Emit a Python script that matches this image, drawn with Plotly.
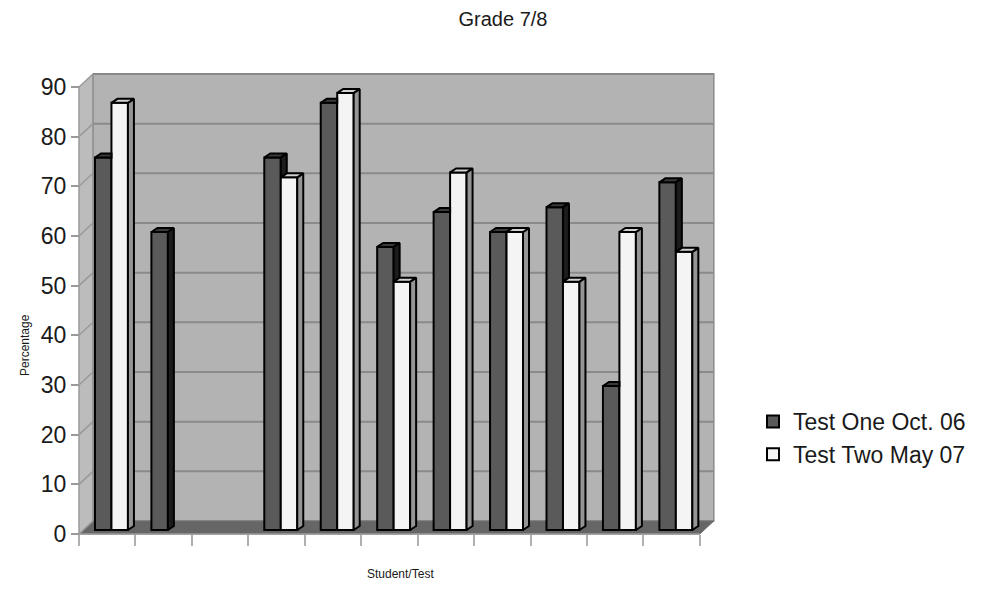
import plotly.graph_objects as go

# ---- data -------------------------------------------------------------
students = list(range(1, 12))          # 11 student slots along the x axis
test_one = [75, 60, None, 75, 86, 57, 64, 60, 65, 29, 70]
test_two = [86, None, None, 71, 88, 50, 72, 60, 50, 60, 56]
series_names = ["Test One Oct. 06", "Test Two May 07"]
y_ticks = list(range(0, 100, 10))

# ---- geometry (pixels -> data units) -----------------------------------
W, H = 990, 590
ML, MR, MT, MB = 75, 273, 71, 53
PX_CAT = 56.44          # pixels per category slot
PX_UNIT = 4.967         # pixels per percentage point
ORIGIN_X, ORIGIN_Y = 79, 534   # front-left-bottom corner of the chart box

plot_w = W - ML - MR
plot_h = H - MT - MB
x_min = -(ORIGIN_X - ML) / PX_CAT
x_max = x_min + plot_w / PX_CAT
y_min = -(H - MB - ORIGIN_Y) / PX_UNIT
y_max = y_min + plot_h / PX_UNIT

N = len(students)
Y_TOP = 90
WALL_DX, WALL_DY = 14 / PX_CAT, 13 / PX_UNIT     # depth of the chart box
BAR_DX, BAR_DY = 6 / PX_CAT, 4 / PX_UNIT         # depth of each column
BAR_BASE = 4 / PX_UNIT
BAR_W = 0.292
BAR_OFF = 0.283

FONT = "Liberation Sans, Arial, sans-serif"
DARK = dict(front="#5a5a5a", top="#3a3a3a", side="#1c1c1c")
LIGHT = dict(front="#f4f4f4", top="#d2d2d2", side="#959595")


def px(xp):
    return (xp - ML) / plot_w


def py(yp):
    return (H - MB - yp) / plot_h


fig = go.Figure()

# front faces of the columns
for vals, name, col, off in [(test_one, series_names[0], DARK, 0.0),
                             (test_two, series_names[1], LIGHT, BAR_W)]:
    fig.add_trace(go.Bar(
        x=[i + BAR_OFF + off + BAR_W / 2 for i in range(N)],
        y=vals, base=BAR_BASE, width=BAR_W, name=name,
        marker=dict(color=col["front"], line=dict(color="#000000", width=2)),
        hoverinfo="skip",
    ))


def face(pts, color):
    xs = [p[0] for p in pts] + [pts[0][0]]
    ys = [p[1] for p in pts] + [pts[0][1]]
    fig.add_trace(go.Scatter(
        x=xs, y=ys, mode="lines", fill="toself", fillcolor=color,
        line=dict(color="#000000", width=2), showlegend=False,
        hoverinfo="skip",
    ))


# top and side faces giving the columns their depth
for i in range(N):
    d, w = test_one[i], test_two[i]
    dl = i + BAR_OFF
    dr = dl + BAR_W
    wl, wr = dr, dr + BAR_W
    b = BAR_BASE
    wt = None if w is None else b + w
    if d is not None:
        dt = b + d
        if wt is not None and wt > dt:
            face([(dl, dt), (dr, dt), (dr, dt + BAR_DY),
                  (dl + BAR_DX, dt + BAR_DY)], DARK["top"])
        else:
            face([(dl, dt), (dr, dt), (dr + BAR_DX, dt + BAR_DY),
                  (dl + BAR_DX, dt + BAR_DY)], DARK["top"])
        if wt is None:
            face([(dr, b), (dr + BAR_DX, b + BAR_DY),
                  (dr + BAR_DX, dt + BAR_DY), (dr, dt)], DARK["side"])
        elif wt < dt:
            face([(dr, wt), (dr + BAR_DX, wt + BAR_DY),
                  (dr + BAR_DX, dt + BAR_DY), (dr, dt)], DARK["side"])
    if w is not None:
        face([(wr, b), (wr + BAR_DX, b + BAR_DY),
              (wr + BAR_DX, wt + BAR_DY), (wr, wt)], LIGHT["side"])
        face([(wl, wt), (wr, wt), (wr + BAR_DX, wt + BAR_DY),
              (wl + BAR_DX, wt + BAR_DY)], LIGHT["top"])

# ---- chart box: side wall, back wall, floor, grid -----------------------
shapes = []
shapes.append(dict(type="path", layer="below", xref="x", yref="y",
                   path=f"M0,0 L{WALL_DX},{WALL_DY} L{WALL_DX},{Y_TOP + WALL_DY} L0,{Y_TOP} Z",
                   fillcolor="#bcbcbc", line=dict(width=0)))
shapes.append(dict(type="rect", layer="below", xref="x", yref="y",
                   x0=WALL_DX, y0=WALL_DY, x1=N + WALL_DX, y1=Y_TOP + WALL_DY,
                   fillcolor="#b3b3b3", line=dict(color="#8c8c8c", width=1.5)))
shapes.append(dict(type="path", layer="below", xref="x", yref="y",
                   path=f"M0,0 L{N},0 L{N + WALL_DX},{WALL_DY} L{WALL_DX},{WALL_DY} Z",
                   fillcolor="#666666", line=dict(color="#707070", width=1)))
for v in y_ticks:
    if v > 0:
        shapes.append(dict(type="line", layer="below", xref="x", yref="y",
                           x0=WALL_DX, y0=v + WALL_DY, x1=N + WALL_DX, y1=v + WALL_DY,
                           line=dict(color="#8a8a8a", width=2)))
    shapes.append(dict(type="line", layer="below", xref="x", yref="y",
                       x0=0, y0=v, x1=WALL_DX, y1=v + WALL_DY,
                       line=dict(color="#999999", width=1.5)))
shapes.append(dict(type="line", layer="below", xref="x", yref="y",
                   x0=0, y0=0, x1=0, y1=Y_TOP, line=dict(color="#9a9a9a", width=1.5)))
shapes.append(dict(type="line", layer="below", xref="x", yref="y",
                   x0=0, y0=0, x1=N, y1=0, line=dict(color="#9a9a9a", width=1.5)))

fig.update_layout(
    width=W, height=H,
    margin=dict(l=ML, r=MR, t=MT, b=MB, autoexpand=False),
    paper_bgcolor="#ffffff", plot_bgcolor="#ffffff",
    barmode="overlay",
    font=dict(family=FONT, color="#1a1a1a"),
    title=dict(text="Grade 7/8", x=503 / W, y=1 - 19 / H,
               xanchor="center", yanchor="middle",
               font=dict(family=FONT, size=20, color="#1a1a1a")),
    xaxis=dict(range=[x_min, x_max], anchor="free", position=py(ORIGIN_Y),
               tickvals=list(range(N + 1)), ticks="outside", ticklen=11,
               tickwidth=1.5, tickcolor="#b0b0b0", showticklabels=False,
               showgrid=False, zeroline=False, showline=False, fixedrange=True),
    yaxis=dict(range=[y_min, y_max], anchor="free", position=px(ORIGIN_X),
               tickvals=y_ticks, ticks="outside", ticklen=8, tickwidth=1.5,
               tickcolor="#9a9a9a", tickfont=dict(size=23, color="#1a1a1a"),
               showgrid=False, zeroline=False, showline=False, fixedrange=True),
    legend=dict(x=px(753), y=py(438), xanchor="left", yanchor="middle",
                font=dict(size=23, color="#1a1a1a"), bgcolor="rgba(0,0,0,0)",
                traceorder="normal", itemclick=False),
    shapes=shapes,
    annotations=[
        dict(text="Student/Test", xref="paper", yref="paper",
             x=px(401), y=py(583), showarrow=False,
             font=dict(size=12, color="#1a1a1a")),
        dict(text="Percentage", xref="paper", yref="paper",
             x=px(16), y=py(345), showarrow=False, textangle=-90,
             font=dict(size=12, color="#1a1a1a")),
    ],
    showlegend=True,
)

fig.write_html("out.html")
